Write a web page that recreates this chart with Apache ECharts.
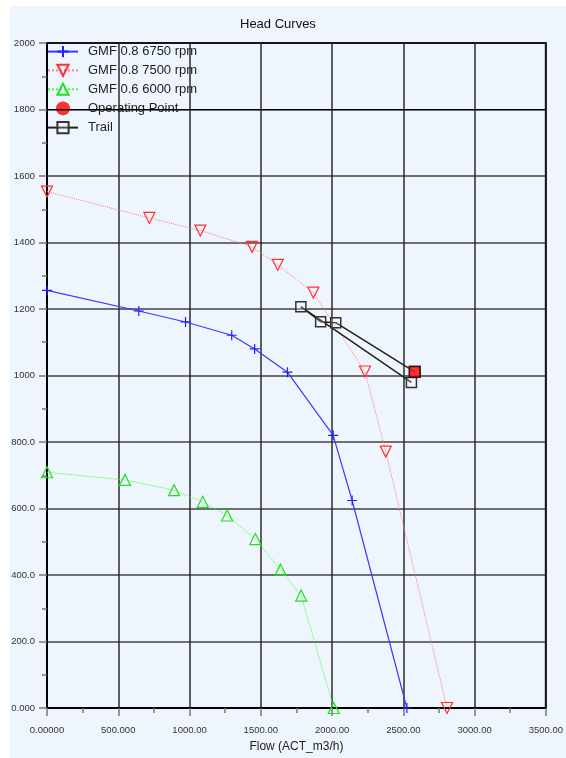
<!DOCTYPE html>
<html>
<head>
<meta charset="utf-8">
<script src="https://cdn.jsdelivr.net/npm/echarts@6/dist/echarts.min.js"></script>
<style>
html,body{margin:0;padding:0;background:#fff;overflow:hidden;}
#c{width:566px;height:758px;
background:linear-gradient(#fff,#fff) top left/100% 6px no-repeat,linear-gradient(#fff,#fff) top left/10px 100% no-repeat,#eef5fc;}
</style>
</head>
<body>
<div id="c"></div>
<script>
var xTickLabels = ['0.00000','500.000','1000.00','1500.00','2000.00','2500.00','3000.00','3500.00'];
var yTickLabels = ['0.000','200.0','400.0','600.0','800.0','1000','1200','1400','1600','1800','2000'];

var blueFlow = [0, 644, 972, 1296, 1457, 1687, 2008, 2141, 2525];
var blueHead = [1256, 1194, 1161, 1121, 1080, 1010, 820, 624, 0];

var redFlow = [0, 718, 1076, 1439, 1619, 1869, 2231, 2377, 2807];
var redHead = [1553, 1474, 1436, 1387, 1333, 1249, 1012, 771, 0];

var greenFlow = [0, 547, 892, 1093, 1264, 1462, 1638, 1783, 2012];
var greenHead = [709, 686, 655, 620, 579, 508, 416, 338, 0];

var opFlow = [2580];
var opHead = [1011];

var trailFlow = [2557, 1781, 1920, 2026, 2580];
var trailHead = [979, 1207, 1162, 1159, 1011];

var refHead = 1800;

function pairs(a, b) { return a.map(function (v, i) { return [v, b[i]]; }); }

var plusPath = 'path://M5,0 L5,10 M0,5 L10,5';
var downTri = 'path://M0,0 L10,0 L5,9 Z';
var upTri = 'path://M5,0 L10,9 L0,9 Z';
var FONT = 'Liberation Sans, Arial, sans-serif';

var chart = echarts.init(document.getElementById('c'), null, {renderer: 'canvas'});
chart.setOption({
  backgroundColor: 'transparent',
  animation: false,
  title: {
    text: 'Head Curves', left: 240, top: 18, padding: 0,
    textStyle: {fontFamily: FONT, fontSize: 13, fontWeight: 'normal', color: '#111'}
  },
  legend: {
    orient: 'vertical', left: 47, top: 45, z: -1, padding: 0,
    itemWidth: 30, itemHeight: 14, itemGap: 5.6,
    textStyle: {fontFamily: FONT, fontSize: 13, color: '#222', padding: [0, 0, 0, 5]},
    data: [
      'GMF 0.8 6750 rpm', 'GMF 0.8 7500 rpm', 'GMF 0.6 6000 rpm',
      {name: 'Operating Point', icon: 'circle', itemStyle: {color: '#ff0000', borderWidth: 0}},
      'Trail'
    ]
  },
  grid: {left: 47, right: 15, top: 43, bottom: 43, show: true, borderColor: '#000', borderWidth: 2, backgroundColor: 'transparent'},
  xAxis: {
    type: 'value', min: 0, max: 3500, interval: 500,
    name: 'Flow (ACT_m3/h)', nameLocation: 'middle', nameGap: 33,
    nameTextStyle: {fontFamily: FONT, fontSize: 12, color: '#222'},
    axisLine: {show: true, lineStyle: {color: '#000', width: 2}},
    axisTick: {show: true, length: 8, lineStyle: {color: '#777', width: 1.5}},
    minorTick: {show: true, splitNumber: 2, length: 5, lineStyle: {color: '#777', width: 1.5}},
    splitLine: {show: true, lineStyle: {color: 'rgba(35,35,35,0.85)', width: 1.7}},
    axisLabel: {
      margin: 17, fontFamily: FONT, fontSize: 9.5, color: '#333',
      formatter: function (v) { return xTickLabels[Math.round(v / 500)]; }
    }
  },
  yAxis: {
    type: 'value', min: 0, max: 2000, interval: 200,
    axisLine: {show: true, lineStyle: {color: '#000', width: 2}},
    axisTick: {show: true, length: 8, lineStyle: {color: '#777', width: 1.5}},
    minorTick: {show: true, splitNumber: 2, length: 5, lineStyle: {color: '#777', width: 1.5}},
    splitLine: {show: true, lineStyle: {color: 'rgba(35,35,35,0.85)', width: 1.7}},
    axisLabel: {
      margin: 12, fontFamily: FONT, fontSize: 9.5, color: '#333',
      formatter: function (v) { return yTickLabels[Math.round(v / 200)]; }
    }
  },
  series: [
    {
      name: 'GMF 0.8 6750 rpm', type: 'line', data: pairs(blueFlow, blueHead),
      symbol: plusPath, symbolSize: 10, showAllSymbol: true,
      lineStyle: {color: '#3a3aff', width: 1.2},
      itemStyle: {color: 'transparent', borderColor: '#2020ff', borderWidth: 1.2},
      markLine: {
        silent: true, symbol: 'none', animation: false,
        lineStyle: {color: '#000', width: 1, type: 'solid'},
        label: {show: false},
        data: [{yAxis: refHead}]
      }
    },
    {
      name: 'GMF 0.8 7500 rpm', type: 'line', data: pairs(redFlow, redHead),
      symbol: downTri, symbolSize: 11,
      lineStyle: {color: '#ff8080', width: 1, type: 'dotted'},
      itemStyle: {color: 'transparent', borderColor: '#ff3030', borderWidth: 1.2}
    },
    {
      name: 'GMF 0.6 6000 rpm', type: 'line', data: pairs(greenFlow, greenHead),
      symbol: upTri, symbolSize: 11,
      lineStyle: {color: '#40ff40', width: 1, type: 'dotted'},
      itemStyle: {color: 'transparent', borderColor: '#20e020', borderWidth: 1.2}
    },
    {
      name: 'Trail', type: 'line', data: pairs(trailFlow, trailHead),
      symbol: 'rect', symbolSize: 10, z: 3,
      lineStyle: {color: '#222', width: 1.5},
      itemStyle: {color: 'rgba(255,255,255,0.2)', borderColor: '#333', borderWidth: 1.5}
    },
    {
      name: 'Operating Point', type: 'scatter', data: pairs(opFlow, opHead),
      symbol: 'rect', symbolSize: 11, z: 4,
      itemStyle: {color: '#ff0000', borderColor: '#111', borderWidth: 1.5}
    }
  ]
});
</script>
</body>
</html>
